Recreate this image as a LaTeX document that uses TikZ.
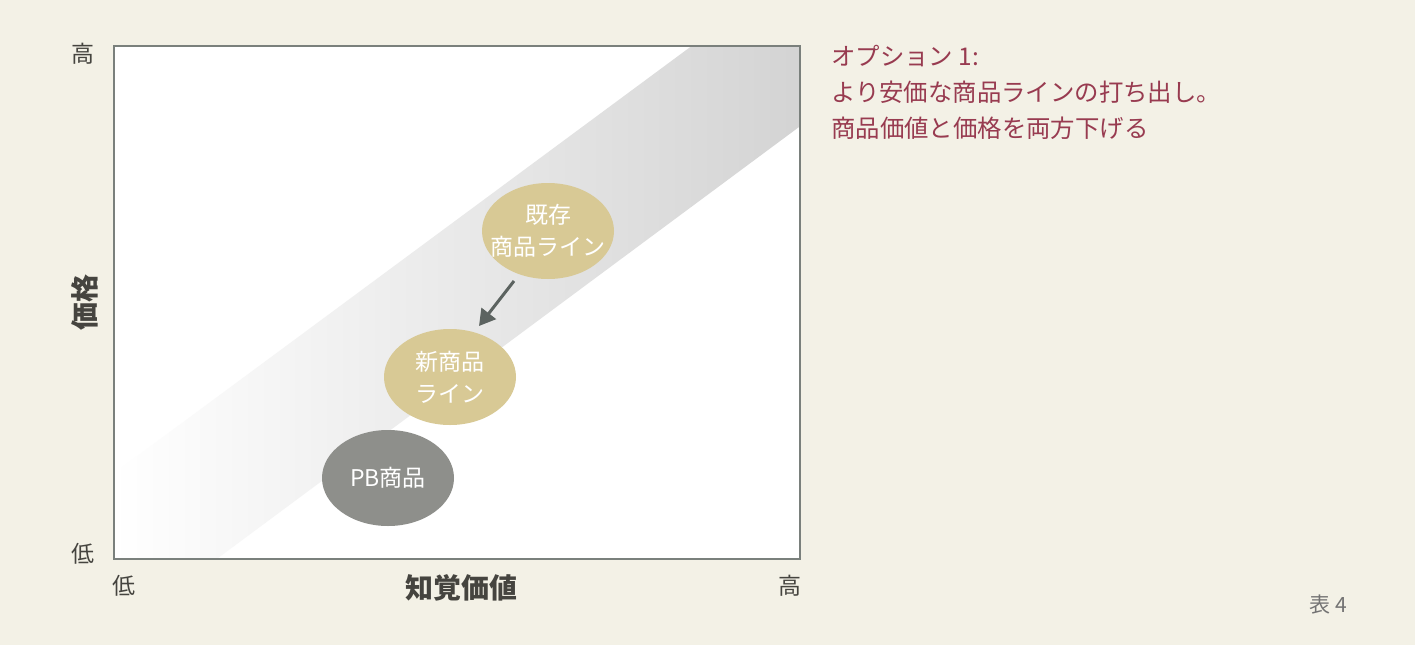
\documentclass[tikz,border=0pt]{standalone}
\usepackage{fontspec}
\setmainfont{Noto Sans CJK JP}
\usetikzlibrary{arrows.meta,shapes.geometric}
\definecolor{bg}{HTML}{F3F1E6}
\definecolor{frame}{HTML}{7A807C}
\definecolor{tan}{HTML}{D8C995}
\definecolor{pbgray}{HTML}{8E8F8B}
\definecolor{arrowc}{HTML}{5C6360}
\definecolor{titlec}{HTML}{983B50}
\definecolor{labelc}{HTML}{45443F}
\tikzset{
  blob/.style={ellipse, minimum width=132pt, minimum height=96pt, inner xsep=-16pt, inner ysep=-8pt, text=white, font=\fontsize{23}{32}\selectfont, align=center},
  axlabel/.style={text=labelc, font=\fontsize{23}{26}\selectfont, inner sep=0pt},
  axtitle/.style={text=labelc, font=\fontsize{28}{30}\selectfont\bfseries, inner sep=0pt},
}
\begin{document}
\begin{tikzpicture}[x=1pt,y=-1pt]
\useasboundingbox (0,0) rectangle (1415,645);
\fill[bg] (0,0) rectangle (1415,645);
% plot area
\fill[white] (113,45) rectangle (799,558);
\begin{scope}
\clip (113,45) rectangle (799,558);
\shade[left color=white, right color=black!17]
  (113,474) -- (693,45) -- (799,45) -- (799,127) -- (218,558) -- (113,558) -- cycle;
\end{scope}
\node[draw=frame, line width=1.5pt, minimum width=686pt, minimum height=513pt, inner sep=0pt, anchor=north west] (plot) at (113,45) {};
% ellipses
\node[blob, fill=tan] (old) at (548,231) {既存\\商品ライン};
\node[blob, fill=tan] (new) at (450,377) {新商品\\ライン};
\node[blob, fill=pbgray] (pb) at (388,478) {PB商品};
\coordinate (as) at (514,281);
\coordinate (ae) at (479,326);
\draw[arrowc, line width=3pt, -{Triangle[length=16pt,width=18pt]}] (as) -- (ae);
% axis labels
\node[axlabel] (yhi) at (83,54) {高};
\node[axlabel] (ylo) at (83,554) {低};
\node[axlabel] (xlo) at (124,586) {低};
\node[axlabel] (xhi) at (790,586) {高};
\node[axtitle, rotate=90] (ytitle) at (85,302) {価格};
\node[axtitle] (xtitle) at (461,588) {知覚価値};
% title
\node[anchor=north west, text=titlec, align=left, inner sep=0pt, font=\fontsize{24.4}{36}\selectfont] (title) at (831,45) {オプション 1:\\より安価な商品ラインの打ち出し。\\商品価値と価格を両方下げる};
\node[text=black!55, font=\fontsize{21}{24}\selectfont, inner sep=0pt] (tab) at (1328,605) {表 4};
\end{tikzpicture}
\end{document}
